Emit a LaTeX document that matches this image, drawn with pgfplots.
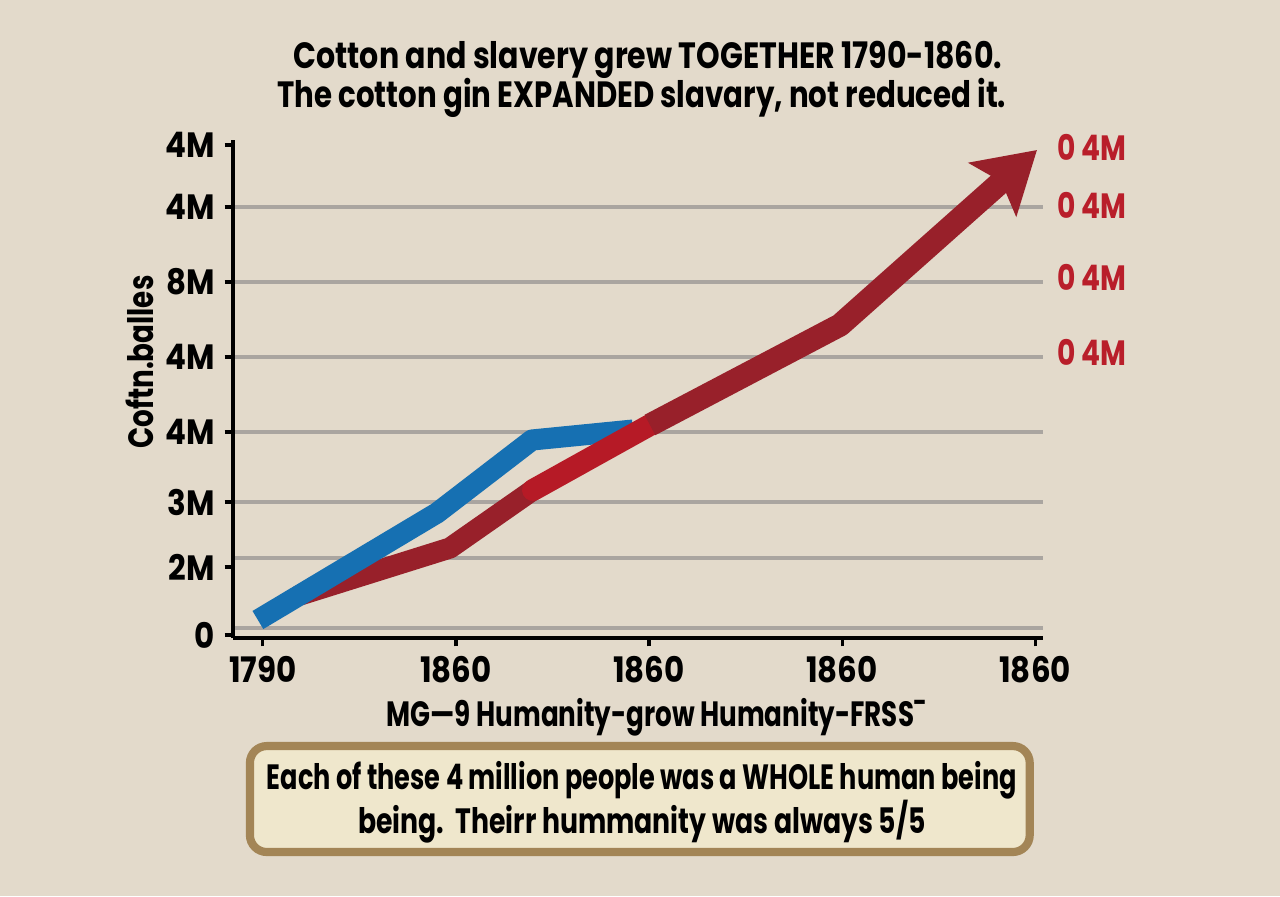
\documentclass[border=0pt]{standalone}
\usepackage{fontspec}
\setmainfont{Poppins}
\usepackage{pgfplots}
\pgfplotsset{compat=1.18}
\usetikzlibrary{arrows.meta}

\definecolor{paper}{RGB}{227,218,203}
\definecolor{gridgray}{RGB}{170,165,160}
\definecolor{cottonblue}{RGB}{22,112,178}
\definecolor{slavered}{RGB}{152,32,42}
\definecolor{brightred}{RGB}{182,26,38}
\definecolor{labelred}{RGB}{185,30,42}
\definecolor{boxedge}{RGB}{163,133,86}
\definecolor{boxfill}{RGB}{239,231,204}

% condensed lettering
\newcommand{\sq}[2][0.88]{\scalebox{#1}[1]{#2}}

\begin{document}
\begin{tikzpicture}
% paper background
\fill[paper] (0,0) rectangle (16cm,11.2cm);

\begin{axis}[
  at={(2.9125cm,3.225cm)}, anchor=south west,
  scale only axis, width=10.125cm, height=6.225cm,
  xmin=-0.155, xmax=4.041, ymin=0, ymax=6.64,
  axis x line*=bottom, axis y line*=left,
  axis line style={line width=1.1pt, black},
  xtick={0,1,2,3,4},
  xticklabels={\sq{1790},\sq{1860},\sq{1860},\sq{1860},\sq{1860}},
  ytick={0.04,0.947,1.813,2.747,3.747,4.747,5.747,6.573},
  yticklabels={\sq{0},\sq{2M},\sq{3M},\sq{4M},\sq{4M},\sq{8M},\sq{4M},\sq{4M}},
  tick align=outside, major tick length=3pt,
  tick style={line width=1.1pt, black},
  minor ytick={0.133,1.067,1.813,2.747,3.747,4.747,5.747},
  yminorgrids=true,
  minor grid style={gridgray, line width=1.4pt},
  minor tick length=0pt,
  ticklabel style={font=\fontsize{12.5}{14}\selectfont\bfseries},
  clip=false,
]
% slave population, first stretch (under the cotton line)
\addplot[slavered, line width=7.5pt, line cap=round, line join=round]
  coordinates {(0.192,0.573) (0.969,1.200) (1.399,1.973)};
% cotton bales
\addplot[cottonblue, line width=7.5pt, line join=round]
  coordinates {(-0.026,0.240) (0.902,1.667) (1.394,2.640) (1.917,2.773)};
% slave population, later stretch
\addplot[brightred, line width=7.8pt, line cap=round, line join=round]
  coordinates {(1.399,1.973) (2.005,2.840)};
\addplot[slavered, line width=8.2pt, line join=round,
  -{Stealth[length=21pt, width=25pt, inset=4pt]}]
  coordinates {(2.005,2.840) (2.990,4.173) (4.010,6.507)};
\end{axis}

\begin{scope}[x=0.0125cm, y=0.0125cm]
% title
\node[font=\fontsize{13}{15}\selectfont\bfseries]
  at (648,896-60) {\sq[0.822]{Cotton and slavery grew TOGETHER 1790-1860.}};
\node[font=\fontsize{13}{15}\selectfont\bfseries]
  at (642,896-98) {\sq[0.80]{The cotton gin EXPANDED slavary, not reduced it.}};
% axis titles
\node[rotate=90, font=\fontsize{12.5}{14}\selectfont\bfseries]
  at (140,896-362) {\sq[0.79]{Coftn.balles}};
\node[font=\fontsize{12.5}{14}\selectfont\bfseries]
  at (656,896-717) {\sq[0.745]{MG—9 Humanity-grow Humanity-FRSS¯}};
% right-hand labels
\foreach \py in {147,205,277,352}
  \node[anchor=west, inner sep=0pt, text=labelred,
        font=\fontsize{12.5}{14}\selectfont\bfseries]
    at (1057,896-\py) {\sq[0.8]{0 4M}};
% note box
\draw[boxedge, line width=2.9pt, fill=boxfill, rounded corners=6pt]
  (250,896-746) rectangle (1030,896-852);
\node[font=\fontsize{12.5}{14}\selectfont\bfseries]
  at (642,896-780) {\sq[0.728]{Each of these 4 million people was a WHOLE human being}};
\node[font=\fontsize{12.5}{14}\selectfont\bfseries]
  at (642,896-822) {\sq[0.76]{being.\ \ Theirr hummanity was always 5/5}};
\end{scope}
\end{tikzpicture}
\end{document}
